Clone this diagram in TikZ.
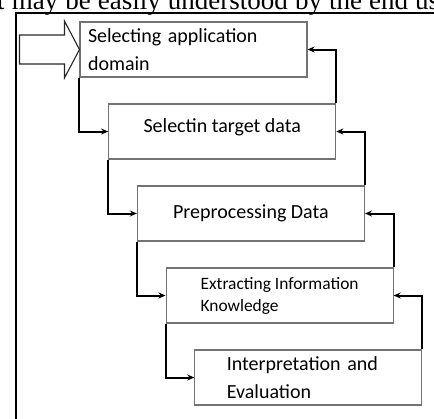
\documentclass[tikz,border=0pt]{standalone}
\usepackage{fontspec}
\setmainfont{Carlito}
\newfontfamily\pagefont{Liberation Serif}
\usetikzlibrary{positioning, arrows.meta}
\tikzset{stagebox/.style={draw=black!55, line width=1.1pt, minimum width=227pt, minimum height=55pt, inner sep=0pt, align=left, font=\fontsize{20}{27.5}\selectfont}, % one step of the process
link/.style={->, line width=2pt}, % connectors between the steps
>={Stealth[length=7pt,width=6pt]}, % small filled arrow heads
node distance=82pt, % vertical distance between two steps
}

\begin{document}
\begin{tikzpicture}[x=1pt,y=1pt]
  \useasboundingbox (0,0) rectangle (434,-418);
  \clip (0,0) rectangle (434,-418);
  % cut line of the page text above the figure
  \node[anchor=base west, inner sep=0pt, font=\pagefont\fontsize{27}{30}\selectfont] (pagetext) at (-3,-9.5) {\makebox[442pt][s]{t may be easily understood by the end us}};
  \draw[line width=1.3pt] (16,-430) |- (440,-13);

  \node[stagebox, text width=211pt] (s1) at (193.5,-49.5) {Selecting application\\domain};
  \node[stagebox, below of=s1, xshift=28.7pt, align=center, text depth=12pt] (s2) {Selectin target data};
  \node[stagebox, below of=s2, xshift=28.7pt, align=center] (s3) {Preprocessing Data};
  \node[stagebox, below of=s3, xshift=28.7pt, font=\fontsize{17.4}{22}\selectfont] (s4) {Extracting Information\\Knowledge};
  \node[stagebox, below of=s4, xshift=28.7pt, text width=163pt] (s5) {Interpretation and\\Evaluation};

  % hollow entry arrow
  \draw[line width=1.1pt, draw=black!85] (s1.west) -- ++(-15,28.5) -- ++(0,-14) -- ++(-45,0) -- ++(0,-29) -- ++(45,0) -- ++(0,-14) -- cycle;

  \draw[link] (s1.south west) |- (s2.west);
  \draw[link] (s2.south west) |- (s3.west);
  \draw[link] (s3.south west) |- (s4.west);
  \draw[link] (s4.south west) |- (s5.west);
  \draw[link] (s2.north east) |- (s1.east);
  \draw[link] (s3.north east) |- (s2.east);
  \draw[link] (s4.north east) |- (s3.east);
  \draw[link] (s5.north east) |- (s4.east);

\end{tikzpicture}
\end{document}
